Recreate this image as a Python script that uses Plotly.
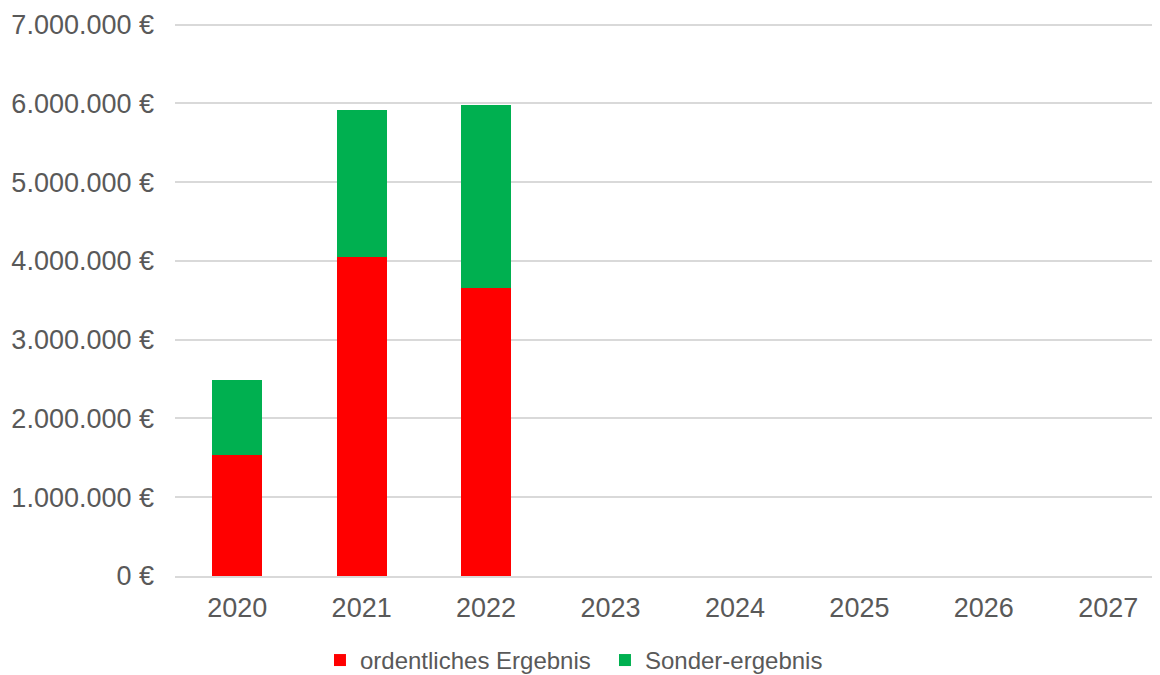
import plotly.graph_objects as go

years = ["2020", "2021", "2022", "2023", "2024", "2025", "2026", "2027"]
ordentlich = [1530000, 4050000, 3655000, None, None, None, None, None]
sonder = [962000, 1860000, 2330000, None, None, None, None, None]
y_ticks = [0, 1000000, 2000000, 3000000, 4000000, 5000000, 6000000, 7000000]
y_tick_labels = ["0 €", "1.000.000 €", "2.000.000 €", "3.000.000 €", "4.000.000 €",
                 "5.000.000 €", "6.000.000 €", "7.000.000 €"]

FONT = "Liberation Sans, Arial, sans-serif"
GREY = "#595959"
GRID = "#d9d9d9"

fig = go.Figure()
fig.add_trace(go.Bar(x=years, y=ordentlich, name="ordentliches Ergebnis",
                     marker=dict(color="#FF0000", line=dict(width=0))))
fig.add_trace(go.Bar(x=years, y=sonder, name="Sonder-ergebnis",
                     marker=dict(color="#00B050", line=dict(width=0))))

fig.update_layout(
    width=1160, height=675,
    barmode="stack", bargap=0.6,
    paper_bgcolor="white", plot_bgcolor="white",
    margin=dict(l=167, r=0, t=15, b=107, autoexpand=False),
    font=dict(family=FONT, color=GREY, size=27),
    showlegend=True,
    legend=dict(orientation="h", x=0.433, xanchor="center", y=-0.112, yanchor="top",
                font=dict(size=24, color=GREY), traceorder="normal",
                entrywidth=240, entrywidthmode="pixels"),
    xaxis=dict(type="category", range=[-0.5, 7.48], showgrid=False,
               showline=True, linecolor=GRID, linewidth=2, automargin=False,
               ticks="", ticklabelstandoff=7,
               tickfont=dict(size=27, color=GREY)),
    yaxis=dict(range=[0, 7020000], tickvals=y_ticks, ticktext=y_tick_labels,
               showgrid=True, gridcolor=GRID, gridwidth=1.5, zeroline=False,
               showline=False, ticks="", ticklabelstandoff=20, automargin=False,
               tickfont=dict(size=27, color=GREY)),
)

fig.write_html("out.html")
